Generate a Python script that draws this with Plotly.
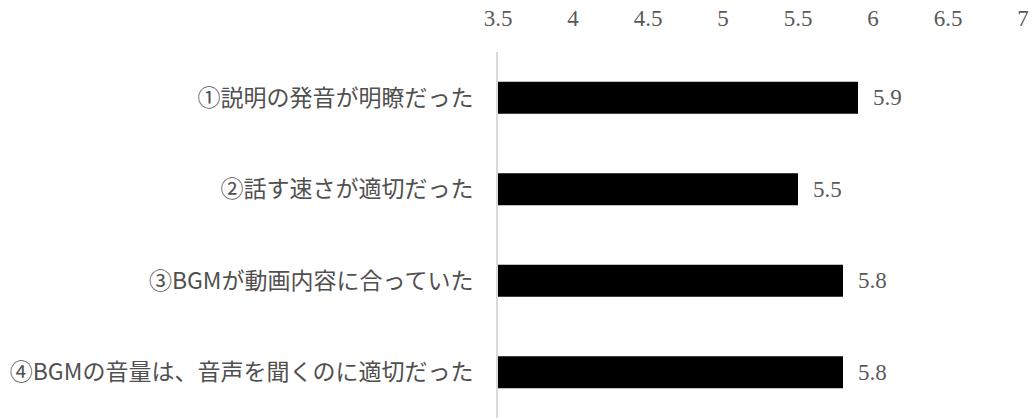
import plotly.graph_objects as go

categories = [
    "①説明の発音が明瞭だった",
    "②話す速さが適切だった",
    "③BGMが動画内容に合っていた",
    "④BGMの音量は、音声を聞くのに適切だった",
]
values = [5.9, 5.5, 5.8, 5.8]
tick_vals = [3.5, 4, 4.5, 5, 5.5, 6, 6.5, 7]
tick_text = ["3.5", "4", "4.5", "5", "5.5", "6", "6.5", "7"]

fig = go.Figure()
fig.add_trace(go.Bar(
    x=values, y=categories, orientation="h",
    marker=dict(color="#000000", line=dict(width=0)),
    hoverinfo="skip",
))

for c, v in zip(categories, values):
    fig.add_annotation(
        x=v, y=c, text=f"{v}", showarrow=False, xanchor="left", xshift=13,
        font=dict(family="Liberation Serif", size=23, color="#595959"),
    )

fig.update_layout(
    width=1033, height=418,
    margin=dict(l=498, r=10, t=52, b=0),
    paper_bgcolor="white", plot_bgcolor="white",
    bargap=0.65,
    showlegend=False,
    xaxis=dict(
        side="top", range=[3.5, 7], tickvals=tick_vals, ticktext=tick_text,
        showgrid=False, zeroline=False, showline=False, ticks="",
        tickfont=dict(family="Liberation Serif", size=23, color="#595959"),
        ticklabelstandoff=20,
    ),
    yaxis=dict(
        autorange="reversed", showgrid=False, zeroline=False,
        showline=True, linecolor="#d9d9d9", linewidth=2, ticks="",
        tickfont=dict(family="Noto Sans CJK JP", size=23, color="#505050"),
        ticklabelstandoff=18,
    ),
)

fig.write_html("out.html")
